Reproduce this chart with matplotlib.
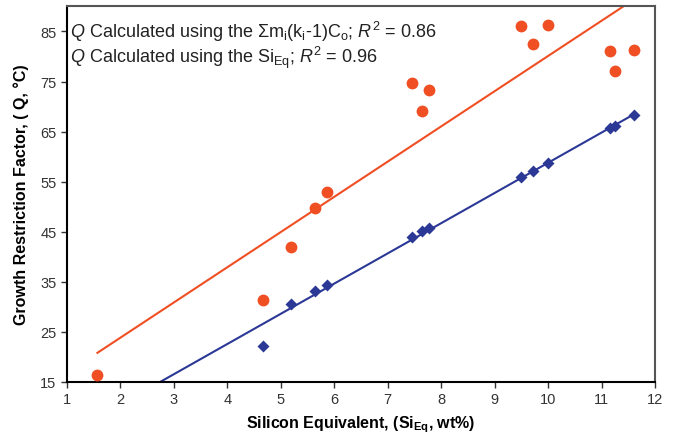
import numpy as np
import matplotlib.pyplot as plt

plt.rcParams['font.family'] = ['Liberation Sans', 'DejaVu Sans']
plt.rcParams['mathtext.fontset'] = 'custom'
plt.rcParams['mathtext.rm'] = 'Liberation Sans'
plt.rcParams['mathtext.it'] = 'Liberation Sans:italic'
plt.rcParams['mathtext.bf'] = 'Liberation Sans:bold'

# silicon equivalent (wt%)
si_eq = [1.57, 4.67, 5.20, 5.64, 5.87, 7.45, 7.65, 7.78, 9.50, 9.72, 9.99, 11.16, 11.26, 11.60]
# Q from sum m_i(k_i-1)C_o
q_sum = [16.3, 31.3, 42.0, 49.7, 52.9, 74.7, 69.1, 73.4, 86.1, 82.5, 86.2, 81.2, 77.1, 81.3]
# Q from Si_Eq
q_sieq = [9.2, 22.2, 30.5, 33.1, 34.4, 43.9, 45.1, 45.7, 55.9, 57.1, 58.7, 65.7, 66.2, 68.3]

red = '#F04E23'
blue = '#2B3896'

fig = plt.figure(figsize=(6.76, 4.39), dpi=100)
ax = fig.add_axes([0.099, 0.128, 0.870, 0.855])

x = np.array(si_eq)
xx = np.array([x.min(), x.max()])
for y, c in [(q_sum, red), (q_sieq, blue)]:
    p = np.polyfit(x, y, 1)
    ax.plot(xx, np.polyval(p, xx), color=c, lw=1.5, zorder=2)

ax.plot(si_eq, q_sum, 'o', color=red, ms=8.5, mec='none', zorder=3)
ax.plot(si_eq, q_sieq, 'D', color=blue, ms=6.5, mec='none', zorder=3)

ax.set_xlim(1, 12)
ax.set_ylim(15, 90)
ax.set_xticks(range(1, 13))
ax.set_yticks(range(15, 90, 10))
ax.tick_params(labelsize=10.5, colors='#333333', length=4, width=1)

for s in ['left', 'bottom']:
    ax.spines[s].set_color('black')
    ax.spines[s].set_linewidth(1.5)
for s in ['top', 'right']:
    ax.spines[s].set_color('#555555')
    ax.spines[s].set_linewidth(1.5)

ax.set_xlabel('Silicon Equivalent, (Si$_{\\mathbf{Eq}}$, wt%)', fontsize=11.5, fontweight='bold', labelpad=5)
ax.set_ylabel('Growth Restriction Factor, ( Q, °C)', fontsize=11.5, fontweight='bold', labelpad=8)

ax.text(0.005, 0.934, '$Q$ Calculated using the Σm$_\\mathrm{i}$(k$_\\mathrm{i}$-1)C$_\\mathrm{o}$; $R^2$ = 0.86',
        transform=ax.transAxes, fontsize=13, color='#222222', va='center')
ax.text(0.005, 0.865, '$Q$ Calculated using the Si$_\\mathrm{Eq}$; $R^2$ = 0.96',
        transform=ax.transAxes, fontsize=13, color='#222222', va='center')

fig.savefig('out.png', dpi=100)
